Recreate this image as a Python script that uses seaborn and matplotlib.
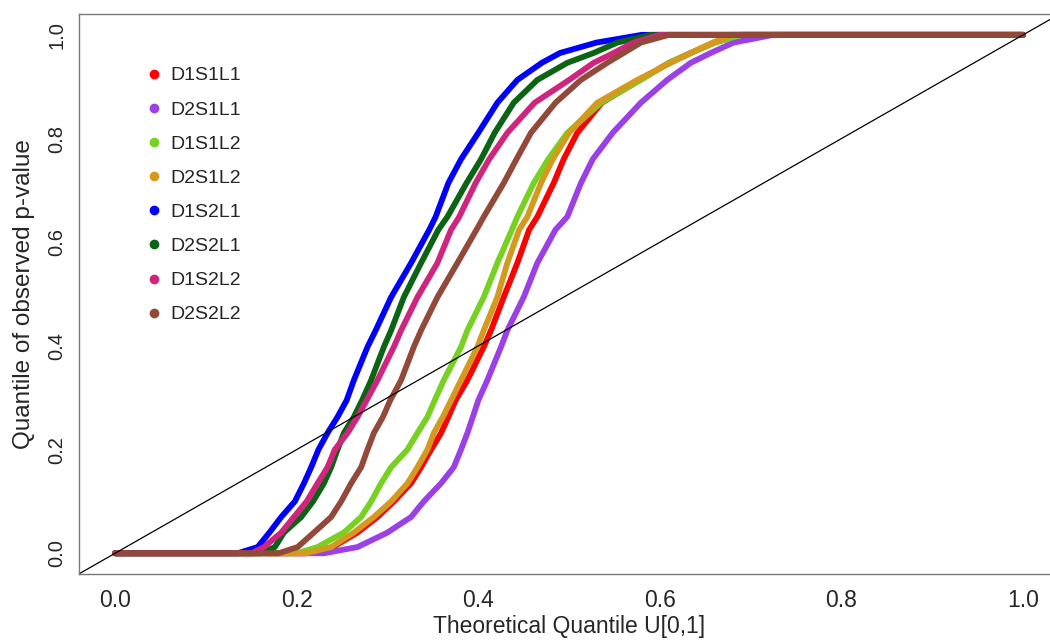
import matplotlib
matplotlib.use("Agg")
import matplotlib.pyplot as plt
import pandas as pd
import seaborn as sns
from matplotlib.lines import Line2D

# quantile levels of observed p-value (shared by all curves)
Y_LEVELS = [0, 0.012, 0.04, 0.07, 0.10, 0.135, 0.166, 0.2, 0.232, 0.263, 0.295,
            0.334, 0.398, 0.43, 0.494, 0.56, 0.624, 0.649, 0.714, 0.76, 0.811,
            0.869, 0.913, 0.946, 0.965, 0.985, 1.0]

# theoretical quantile at which each curve reaches the level above
D1S1L1 = [0.21, 0.24, 0.267, 0.289, 0.307, 0.326, 0.337, 0.348, 0.359, 0.367, 0.375,
          0.388, 0.406, 0.414, 0.428, 0.443, 0.456, 0.465, 0.483, 0.494, 0.509,
          0.536, 0.578, 0.61, 0.634, 0.66, 0.69]
D2S1L1 = [0.23, 0.267, 0.30, 0.326, 0.34, 0.359, 0.373, 0.381, 0.388, 0.394, 0.40,
          0.41, 0.425, 0.432, 0.45, 0.465, 0.485, 0.498, 0.513, 0.526, 0.548,
          0.579, 0.608, 0.634, 0.656, 0.681, 0.725]
D1S1L2 = [0.20, 0.223, 0.252, 0.271, 0.282, 0.293, 0.304, 0.322, 0.333, 0.344, 0.352,
          0.362, 0.381, 0.388, 0.406, 0.421, 0.437, 0.443, 0.461, 0.477, 0.498,
          0.535, 0.579, 0.61, 0.634, 0.66, 0.69]
D2S1L2 = [0.21, 0.238, 0.263, 0.285, 0.304, 0.322, 0.333, 0.344, 0.351, 0.361, 0.37,
          0.381, 0.399, 0.406, 0.421, 0.432, 0.445, 0.454, 0.469, 0.482, 0.50,
          0.531, 0.575, 0.612, 0.634, 0.658, 0.68]
D1S2L1 = [0.135, 0.157, 0.17, 0.183, 0.198, 0.208, 0.216, 0.224, 0.234, 0.245, 0.255,
          0.263, 0.278, 0.287, 0.304, 0.326, 0.346, 0.353, 0.367, 0.381, 0.40,
          0.421, 0.443, 0.47, 0.49, 0.53, 0.58]
D2S2L1 = [0.16, 0.176, 0.186, 0.205, 0.218, 0.23, 0.238, 0.245, 0.252, 0.263, 0.272,
          0.282, 0.296, 0.304, 0.318, 0.337, 0.356, 0.366, 0.387, 0.403, 0.418,
          0.439, 0.465, 0.498, 0.527, 0.553, 0.59]
D1S2L2 = [0.15, 0.164, 0.183, 0.197, 0.211, 0.223, 0.234, 0.242, 0.256, 0.267, 0.277,
          0.289, 0.307, 0.315, 0.333, 0.355, 0.37, 0.379, 0.397, 0.412, 0.432,
          0.462, 0.50, 0.527, 0.549, 0.571, 0.60]
D2S2L2 = [0.18, 0.201, 0.219, 0.238, 0.249, 0.26, 0.271, 0.278, 0.285, 0.295, 0.303,
          0.315, 0.329, 0.337, 0.355, 0.377, 0.398, 0.406, 0.428, 0.442, 0.458,
          0.485, 0.513, 0.542, 0.56, 0.579, 0.61]

SERIES = {"D1S1L1": D1S1L1, "D2S1L1": D2S1L1, "D1S1L2": D1S1L2, "D2S1L2": D2S1L2,
          "D1S2L1": D1S2L1, "D2S2L1": D2S2L1, "D1S2L2": D1S2L2, "D2S2L2": D2S2L2}
COLORS = ["#ff0000", "#9b3fe6", "#76d121", "#d49a1e",
          "#0000ff", "#0b6414", "#d0257f", "#93493a"]

rows = []
for name, xs in SERIES.items():
    # flat at 0 from the origin, flat at 1 up to x = 1
    px = [0.0] + xs + [1.0]
    py = [0.0] + Y_LEVELS + [1.0]
    for i, (a, b) in enumerate(zip(px, py)):
        rows.append({"series": name, "order": i, "x": a, "y": b})
df = pd.DataFrame(rows)

sns.set_theme(style="white")
plt.rcParams["font.family"] = ["Liberation Sans", "DejaVu Sans"]

fig = plt.figure(figsize=(10.5, 6.41), dpi=100)
ax = fig.add_axes([0.075, 0.1045, 0.934, 0.8735])

palette = dict(zip(SERIES.keys(), COLORS))
sns.lineplot(data=df, x="x", y="y", hue="series", hue_order=list(SERIES.keys()),
             palette=palette, sort=False, estimator=None, units="series",
             linewidth=4.2, legend=False, ax=ax)
ax.axline((0, 0), (1, 1), color="black", linewidth=0.9)

ax.set_xlim(-0.04, 1.04)
ax.set_ylim(-0.04, 1.04)
ticks = [0.0, 0.2, 0.4, 0.6, 0.8, 1.0]
ax.set_xticks(ticks)
ax.set_yticks(ticks)
ax.set_xticklabels([f"{t:.1f}" for t in ticks], fontsize=16.5)
ax.set_yticklabels([f"{t:.1f}" for t in ticks], fontsize=14.5, rotation=90, va="center")
ax.tick_params(direction="out", length=6, width=0.8, color="#666666")
ax.tick_params(axis="x", pad=5)
ax.tick_params(axis="y", pad=3)
for sp in ax.spines.values():
    sp.set_color("#777777")
    sp.set_linewidth(1.0)

ax.set_xlabel("Theoretical Quantile U[0,1]", fontsize=16.5, labelpad=2)
ax.set_ylabel("Quantile of observed p-value", fontsize=17.5, labelpad=9)

handles = [Line2D([], [], linestyle="", marker="o", markersize=6, color=c) for c in COLORS]
ax.legend(handles, list(SERIES.keys()), loc="upper left", bbox_to_anchor=(0.051, 0.937),
          frameon=False, fontsize=14, labelspacing=0.85, handlelength=0.8,
          handletextpad=0.42)

fig.savefig("out.png", dpi=100)
